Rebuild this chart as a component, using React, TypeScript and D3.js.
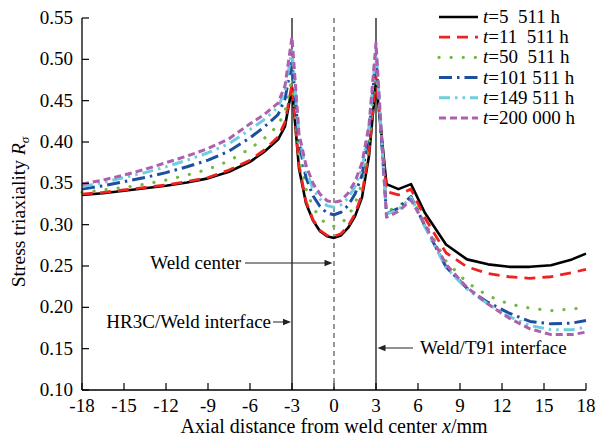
import React from 'react';
import * as d3 from 'd3';

const xValues = [-18, -16.5, -15, -13.5, -12, -10.5, -9, -7.5, -6, -5, -4, -3.5, -3, -2.5, -2, -1.5, -1, -0.5, 0, 0.5, 1, 1.5, 2, 2.5, 3, 3.75, 4.6, 5.5, 6.5, 8, 9.5, 11, 12.5, 14, 15.5, 17, 18];

const t5511 = [0.336, 0.338, 0.341, 0.344, 0.347, 0.351, 0.356, 0.364, 0.376, 0.388, 0.403, 0.419, 0.466, 0.368, 0.326, 0.305, 0.292, 0.286, 0.284, 0.287, 0.296, 0.310, 0.333, 0.383, 0.474, 0.349, 0.343, 0.349, 0.314, 0.276, 0.258, 0.252, 0.249, 0.249, 0.251, 0.258, 0.265];
const t11511 = [0.337, 0.339, 0.342, 0.345, 0.348, 0.352, 0.357, 0.366, 0.378, 0.390, 0.406, 0.424, 0.470, 0.372, 0.328, 0.306, 0.293, 0.287, 0.286, 0.289, 0.298, 0.313, 0.337, 0.388, 0.479, 0.340, 0.336, 0.343, 0.308, 0.266, 0.249, 0.241, 0.237, 0.235, 0.237, 0.242, 0.246];
const t50511 = [0.339, 0.342, 0.345, 0.349, 0.354, 0.360, 0.367, 0.377, 0.392, 0.404, 0.420, 0.437, 0.478, 0.385, 0.343, 0.321, 0.308, 0.300, 0.298, 0.301, 0.310, 0.325, 0.350, 0.400, 0.494, 0.316, 0.322, 0.334, 0.302, 0.256, 0.230, 0.214, 0.204, 0.199, 0.196, 0.198, 0.200];
const t101511 = [0.343, 0.347, 0.352, 0.357, 0.363, 0.370, 0.378, 0.389, 0.405, 0.418, 0.433, 0.452, 0.499, 0.400, 0.357, 0.335, 0.322, 0.314, 0.312, 0.315, 0.323, 0.337, 0.360, 0.410, 0.503, 0.313, 0.320, 0.334, 0.298, 0.249, 0.223, 0.206, 0.193, 0.183, 0.180, 0.181, 0.184];
const t149511 = [0.346, 0.351, 0.357, 0.363, 0.370, 0.378, 0.387, 0.398, 0.415, 0.427, 0.442, 0.462, 0.511, 0.408, 0.365, 0.343, 0.331, 0.323, 0.321, 0.324, 0.332, 0.346, 0.368, 0.418, 0.511, 0.313, 0.318, 0.333, 0.297, 0.248, 0.222, 0.204, 0.189, 0.178, 0.173, 0.173, 0.176];
const t200000 = [0.349, 0.354, 0.360, 0.367, 0.375, 0.383, 0.392, 0.404, 0.422, 0.433, 0.447, 0.468, 0.527, 0.410, 0.372, 0.350, 0.337, 0.329, 0.327, 0.329, 0.338, 0.352, 0.375, 0.420, 0.520, 0.309, 0.316, 0.330, 0.300, 0.252, 0.224, 0.204, 0.187, 0.174, 0.167, 0.167, 0.170];

const seriesLabels = ['5  511 h', '11  511 h', '50  511 h', '101 511 h', '149 511 h', '200 000 h'];
const xTicks = [-18, -15, -12, -9, -6, -3, 0, 3, 6, 9, 12, 15, 18];
const yTicks = [0.10, 0.15, 0.20, 0.25, 0.30, 0.35, 0.40, 0.45, 0.50, 0.55];

const seriesData = [t5511, t11511, t50511, t101511, t149511, t200000];
const styles = [
  { color: '#000000', dash: null, width: 2.6, cap: 'butt' },
  { color: '#ee2320', dash: '11 7', width: 2.8, cap: 'butt' },
  { color: '#74b844', dash: '0.1 12', width: 3.2, cap: 'round' },
  { color: '#1c4f9f', dash: '13 5 2.5 5', width: 3, cap: 'butt' },
  { color: '#6fcde0', dash: '11 5 2.5 5 2.5 5', width: 3, cap: 'butt' },
  { color: '#ae5fae', dash: '7 4', width: 3, cap: 'butt' },
];

const FONT = '"Liberation Serif", "Times New Roman", serif';

export default function App() {
  const W = 597, H = 437;
  const x = d3.scaleLinear().domain([-18, 18]).range([82, 586]);
  const y = d3.scaleLinear().domain([0.10, 0.55]).range([390, 18]);
  const line = d3.line<[number, number]>().x(d => x(d[0])).y(d => y(d[1])).curve(d3.curveLinear);

  const arrowHead = (tipX: number, tipY: number, dir: number) => {
    const L = 8, h = 3.2;
    return `M${tipX},${tipY} L${tipX - dir * L},${tipY - h} L${tipX - dir * L},${tipY + h} Z`;
  };

  return (
    <svg width={W} height={H} style={{ position: 'absolute', left: 0, top: 0, background: '#fff' }} fontFamily={FONT}>
      <rect x={0} y={0} width={W} height={H} fill="#fff" />
      {/* reference lines */}
      <line x1={x(-3)} x2={x(-3)} y1={y(0.55)} y2={y(0.10)} stroke="#000" strokeWidth={1.2} />
      <line x1={x(3)} x2={x(3)} y1={y(0.55)} y2={y(0.10)} stroke="#000" strokeWidth={1.2} />
      <line x1={x(0)} x2={x(0)} y1={y(0.55)} y2={y(0.10)} stroke="#555" strokeWidth={1.2} strokeDasharray="5 4" />

      {/* series */}
      {seriesData.map((s, i) => (
        <path key={i} d={line(xValues.map((xv, j) => [xv, s[j]]) as [number, number][]) || ''}
          fill="none" stroke={styles[i].color} strokeWidth={styles[i].width}
          strokeDasharray={styles[i].dash || undefined} strokeLinecap={styles[i].cap as any} strokeLinejoin="round" />
      ))}

      {/* axes */}
      <line x1={x(-18)} x2={x(18)} y1={y(0.10)} y2={y(0.10)} stroke="#000" strokeWidth={1.3} />
      <line x1={x(-18)} x2={x(-18)} y1={y(0.10)} y2={y(0.55)} stroke="#000" strokeWidth={1.3} />
      {xTicks.map(t => (
        <g key={'xt' + t}>
          <line x1={x(t)} x2={x(t)} y1={y(0.10)} y2={y(0.10) - 7} stroke="#000" strokeWidth={1.2} />
          <text x={x(t)} y={412} textAnchor="middle" fontSize={19}>{t}</text>
        </g>
      ))}
      {yTicks.map(t => (
        <g key={'yt' + t}>
          <line x1={x(-18)} x2={x(-18) + 7} y1={y(t)} y2={y(t)} stroke="#000" strokeWidth={1.2} />
          <text x={73} y={y(t) + 6} textAnchor="end" fontSize={19}>{t.toFixed(2)}</text>
        </g>
      ))}
      <text x={334} y={433} textAnchor="middle" fontSize={20}>
        Axial distance from weld center <tspan fontStyle="italic">x</tspan>/mm
      </text>
      <text transform="translate(25,212) rotate(-90)" textAnchor="middle" fontSize={19.5}>
        Stress triaxiality <tspan fontStyle="italic">R</tspan><tspan fontStyle="italic" fontSize={13} dy={4}>σ</tspan>
      </text>

      {/* annotations */}
      <text x={241} y={269} textAnchor="end" fontSize={19}>Weld center</text>
      <line x1={245} x2={x(0) - 6} y1={263} y2={263} stroke="#222" strokeWidth={1} />
      <path d={arrowHead(x(0) - 1.5, 263, 1)} fill="#222" />

      <text x={271} y={328} textAnchor="end" fontSize={19}>HR3C/Weld interface</text>
      <line x1={273} x2={x(-3) - 5} y1={322} y2={322} stroke="#222" strokeWidth={1} />
      <path d={arrowHead(x(-3) - 1, 322, 1)} fill="#222" />

      <text x={420} y={354} textAnchor="start" fontSize={19}>Weld/T91 interface</text>
      <line x1={413} x2={x(3) + 6} y1={348} y2={348} stroke="#222" strokeWidth={1} />
      <path d={arrowHead(x(3) + 1.5, 348, -1)} fill="#222" />

      {/* legend */}
      {seriesLabels.map((lab, i) => {
        const ly = 17 + i * 20.2;
        return (
          <g key={'lg' + i}>
            <line x1={439} x2={478} y1={ly} y2={ly} stroke={styles[i].color} strokeWidth={styles[i].width}
              strokeDasharray={styles[i].dash || undefined} strokeLinecap={styles[i].cap as any} />
            <text x={483} y={ly + 6} fontSize={19} xmlSpace="preserve" style={{ whiteSpace: 'pre' }}>
              <tspan fontStyle="italic">t</tspan>{'=' + lab}
            </text>
          </g>
        );
      })}
    </svg>
  );
}
